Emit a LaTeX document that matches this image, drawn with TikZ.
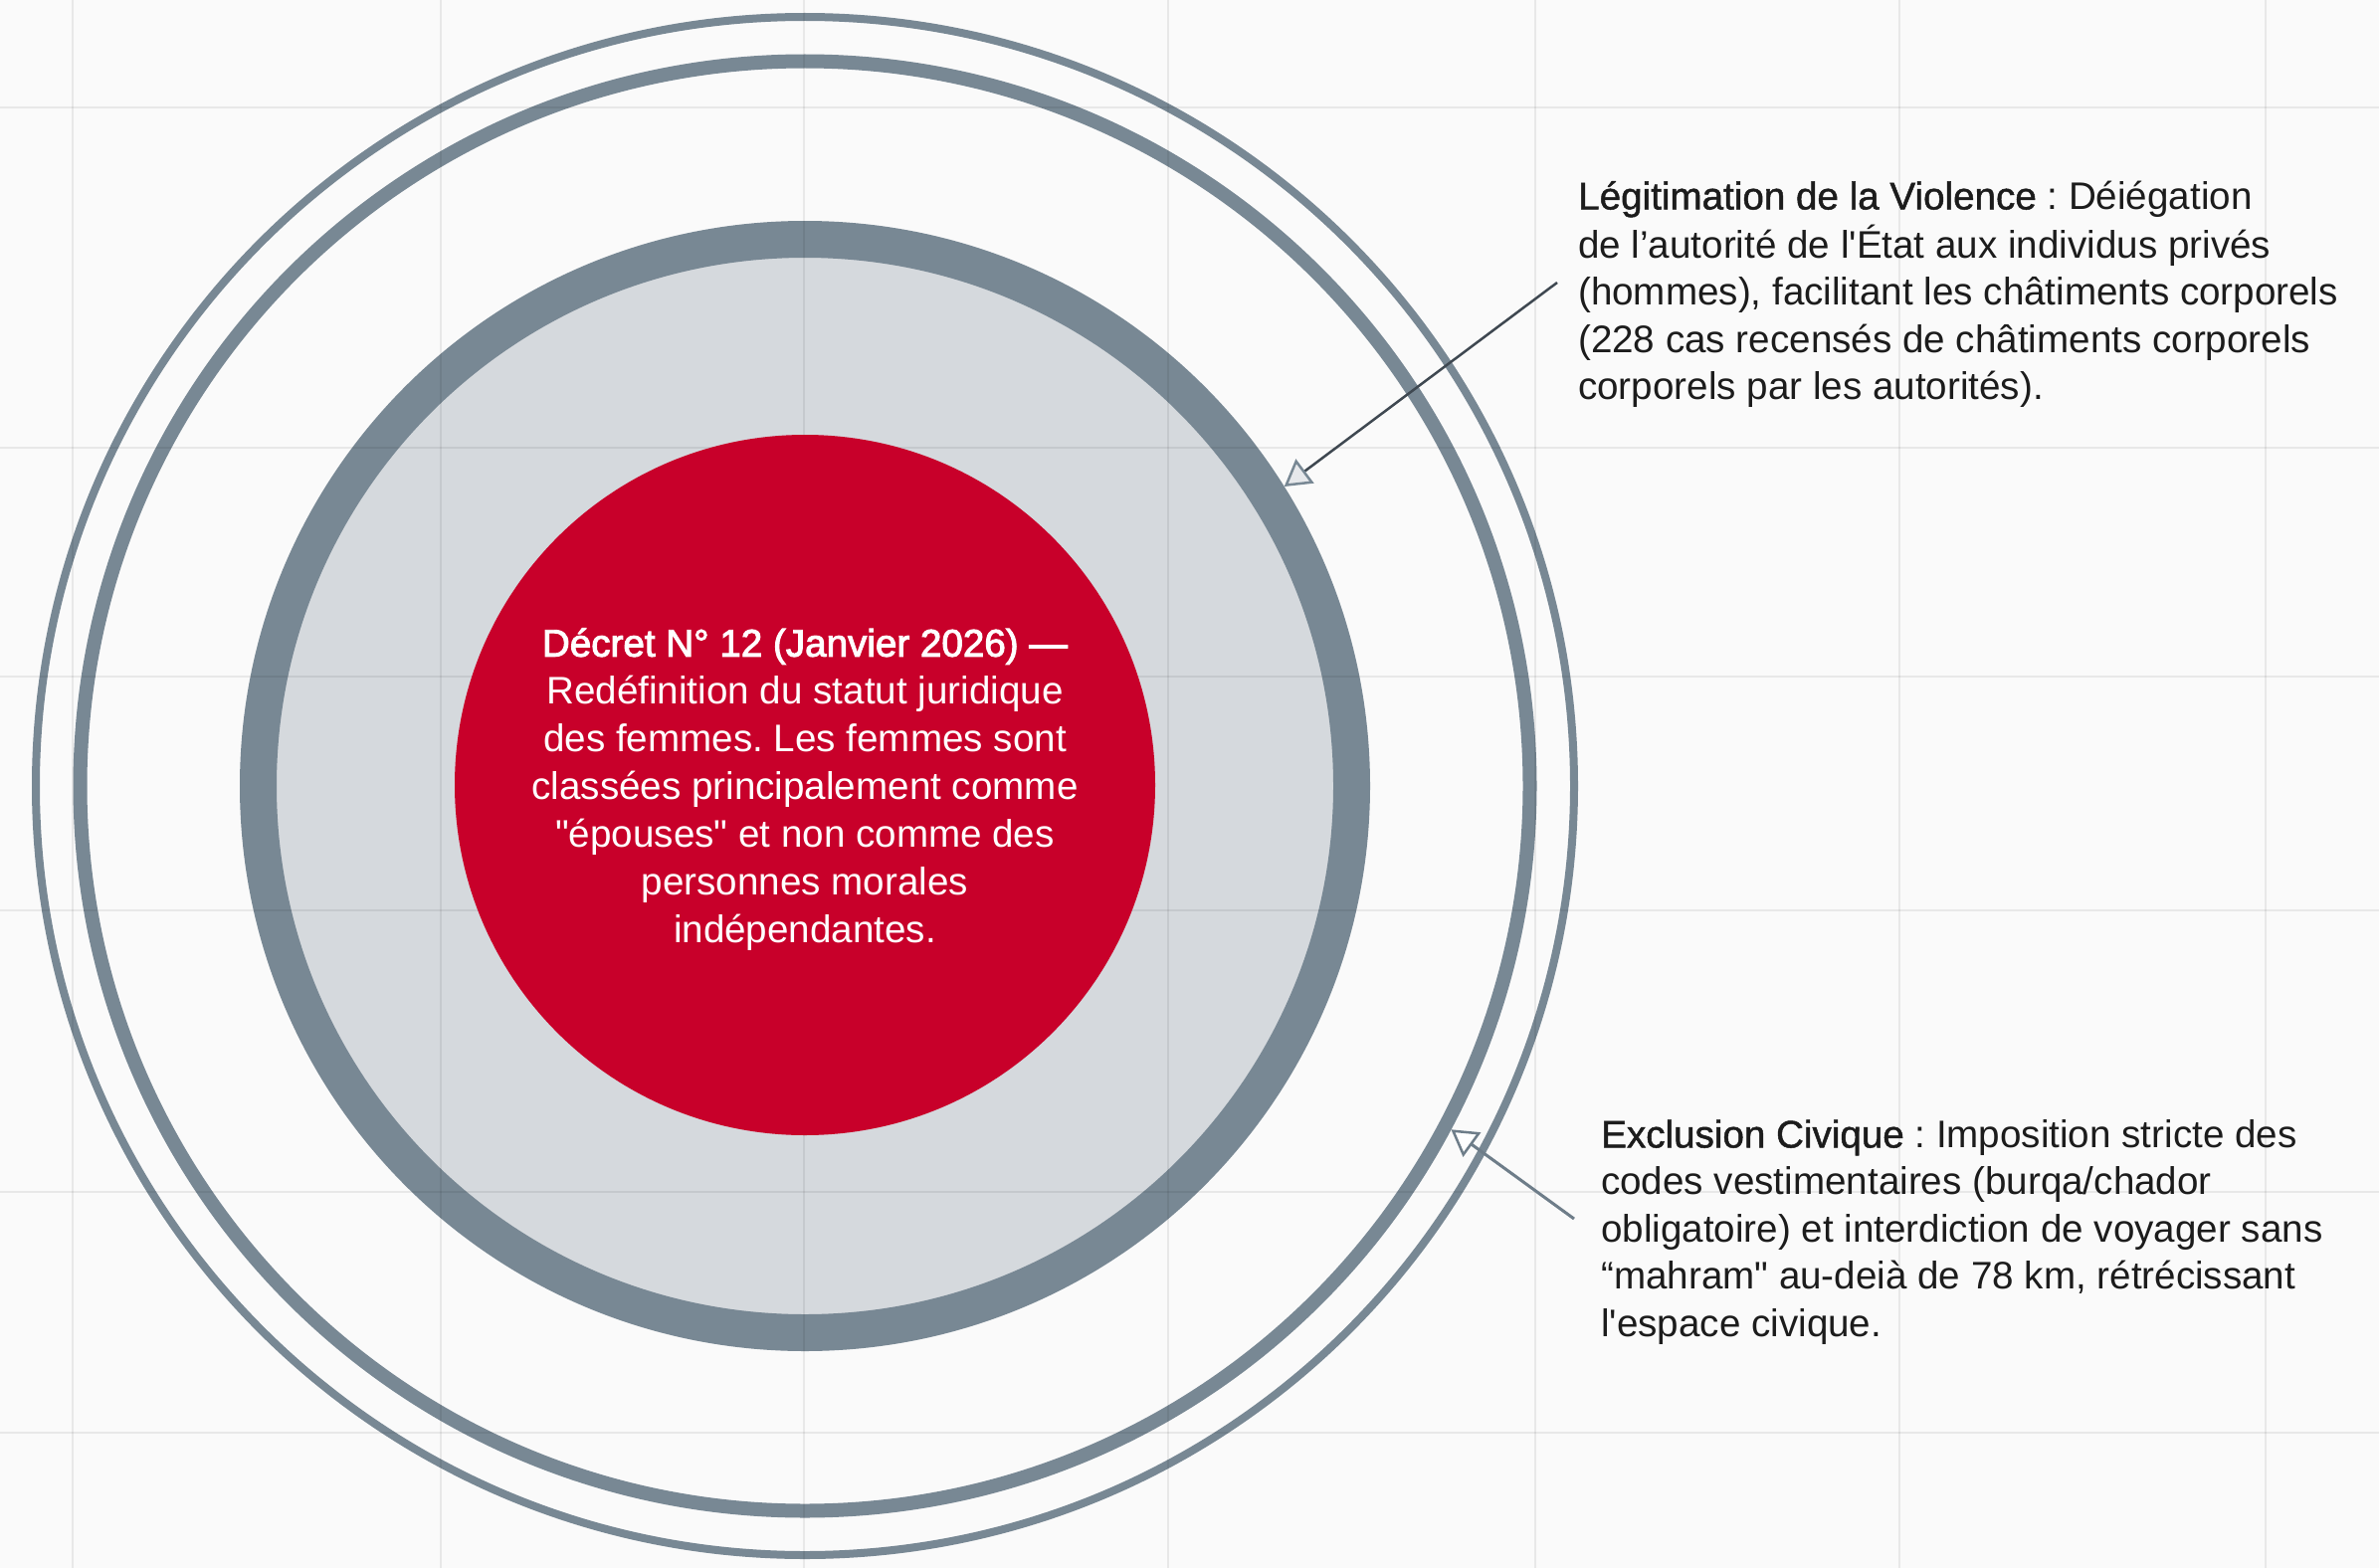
\documentclass[tikz,border=0pt]{standalone}
\usepackage{fontspec}
\setmainfont{Liberation Sans}[Ligatures=TeXOff]
\newfontfamily\medfont[FakeBold=1.2,Ligatures=TeXOff]{Liberation Sans}
\newfontfamily\semibold[FakeBold=2.5,Ligatures=TeXOff]{Liberation Sans}
\usetikzlibrary{arrows.meta}
\definecolor{bgc}{HTML}{FAFAFA}
\definecolor{slate}{HTML}{788894}
\definecolor{diskfill}{HTML}{D5D9DD}
\definecolor{crim}{HTML}{C8002A}
\definecolor{txt}{HTML}{1C1C1C}
\definecolor{arrowA}{HTML}{3F4851}
\definecolor{arrowB}{HTML}{6E7D89}
\begin{document}
\frenchspacing
\begin{tikzpicture}[x=1pt,y=-1pt,
  ring/.style={circle, draw=slate, inner sep=0pt},
  gridline/.style={black, opacity=0.07, line width=2.5pt},
  centertext/.style={text=white, align=center, inner sep=0pt, font=\fontsize{38.6}{48}\selectfont},
  sidetext/.style={text=txt, align=left, inner sep=0pt, font=\fontsize{38.6}{47.5}\selectfont},
  arrA/.style={draw=arrowA, line width=2.5pt, -{Triangle[length=26pt,width=30pt,color=slate,fill=diskfill!60!white,line width=2.5pt]}},
  arrB/.style={draw=arrowB, line width=3pt, -{Triangle[length=26pt,width=30pt,color=arrowB,fill=white,line width=2.5pt]}}
]
\useasboundingbox (0,0) rectangle (2391,1576);
\fill[bgc] (0,0) rectangle (2391,1576);

% rings
\node[ring, fill=diskfill, line width=37pt, minimum size=1099pt] (disk) at (809,790) {};
\node[ring, line width=14pt, minimum size=1457pt] (ring2) at (809,790) {};
\node[ring, line width=8pt, minimum size=1546pt] (ring3) at (809,790) {};

% grid
\foreach \gx in {73,443,808,1174,1543,1909,2277} \draw[gridline] (\gx,0) -- (\gx,1576);
\foreach \gy in {108,450,680,915,1198,1440} \draw[gridline] (0,\gy) -- (2391,\gy);

% core
\node[circle, fill=crim, minimum size=704pt, inner sep=0pt] (core) at (809,789) {};
\node[centertext, anchor=north] (coretext) at (809,626) {\strut{\semibold Décret N° 12 (Janvier 2026) —}\\Redéfinition du statut juridique\\des femmes. Les femmes sont\\classées principalement comme\\"épouses" et non comme des\\personnes morales\\indépendantes.};

% side texts
\node[sidetext, anchor=north west] (legit) at (1586,177) {\strut{\medfont Légitimation de la Violence} : Déiégation\\de l’autorité de l'État aux individus privés\\(hommes), facilitant les châtiments corporels\\(228 cas recensés de châtiments corporels\\corporels par les autorités).};
\node[sidetext, anchor=north west] (excl) at (1609,1120) {\strut{\medfont Exclusion Civique} : Imposition stricte des\\codes vestimentaires (burqa/chador\\obligatoire) et interdiction de voyager sans\\“mahram" au-deià de 78 km, rétrécissant\\l'espace civique.};

% arrows
\coordinate (a1s) at (1565,284);
\coordinate (a2s) at (1582,1225);
\draw[arrA] (a1s) -- (disk.32.65);
\draw[arrB] (a2s) -- (ring2.-28.3);
\end{tikzpicture}
\end{document}
